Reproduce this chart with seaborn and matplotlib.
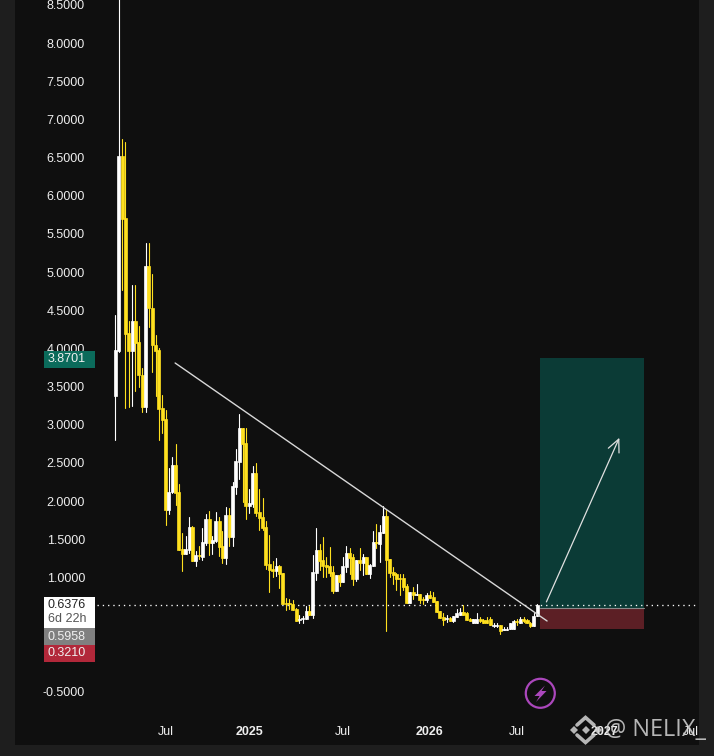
import matplotlib
matplotlib.use("Agg")
import matplotlib.pyplot as plt
import seaborn as sns
import pandas as pd
from matplotlib.patches import Circle, Polygon, Rectangle
from matplotlib.transforms import Affine2D

# weekly candles
opens = [3.38, 3.97, 6.52, 5.71, 4.20, 3.97, 4.36, 4.09, 3.65, 3.23, 5.08, 4.53, 4.05, 3.98, 3.22, 3.08,
         1.88, 2.12, 2.47, 2.12, 1.37, 1.31, 1.36, 1.66, 1.22, 1.29, 1.27, 1.45, 1.77, 1.45, 1.48, 1.74,
         1.41, 1.26, 1.82, 1.53, 2.19, 2.51, 2.96, 2.76, 1.94, 1.96, 2.37, 1.86, 1.79, 1.66, 1.18, 1.11,
         1.08, 1.15, 1.06, 0.67, 0.67, 0.65, 0.59, 0.44, 0.46, 0.46, 0.56, 0.51, 1.06, 1.36, 1.23, 1.16,
         1.15, 1.07, 0.82, 1.03, 0.94, 1.14, 1.32, 1.27, 0.98, 1.23, 1.19, 1.27, 1.05, 1.15, 1.47, 1.44,
         1.58, 1.80, 1.24, 1.07, 1.05, 0.99, 0.99, 0.89, 0.67, 0.81, 0.77, 0.78, 0.72, 0.71, 0.77, 0.74,
         0.69, 0.56, 0.48, 0.46, 0.47, 0.43, 0.48, 0.51, 0.55, 0.53, 0.46, 0.40, 0.40, 0.46, 0.44, 0.44,
         0.46, 0.37, 0.37, 0.38, 0.31, 0.31, 0.33, 0.33, 0.43, 0.40, 0.46, 0.44, 0.40, 0.37, 0.50]
highs = [4.44, 9.50, 6.74, 6.71, 4.36, 4.83, 4.83, 4.29, 3.74, 5.38, 5.38, 4.98, 4.18, 4.01, 3.39, 3.19,
         2.43, 2.58, 2.75, 2.23, 1.58, 1.54, 1.79, 1.67, 1.35, 1.41, 1.65, 1.83, 1.87, 1.54, 1.86, 1.79,
         1.61, 1.92, 1.91, 2.25, 2.68, 3.14, 2.96, 2.96, 2.16, 2.46, 2.50, 2.16, 2.04, 1.74, 1.56, 1.22,
         1.26, 1.16, 1.06, 0.73, 0.72, 0.71, 0.60, 0.51, 0.50, 0.63, 0.63, 1.29, 1.65, 1.44, 1.53, 1.27,
         1.40, 1.15, 1.03, 1.05, 1.27, 1.41, 1.39, 1.31, 1.23, 1.39, 1.31, 1.27, 1.18, 1.61, 1.70, 1.69,
         1.94, 1.88, 1.24, 1.14, 1.06, 1.05, 1.05, 0.92, 0.81, 0.88, 0.92, 0.78, 0.74, 0.80, 0.82, 0.81,
         0.69, 0.56, 0.53, 0.51, 0.48, 0.50, 0.59, 0.60, 0.64, 0.55, 0.47, 0.46, 0.53, 0.48, 0.46, 0.48,
         0.48, 0.40, 0.40, 0.38, 0.35, 0.35, 0.40, 0.44, 0.46, 0.48, 0.48, 0.46, 0.42, 0.53, 0.65]
lows = [2.80, 3.95, 4.77, 3.22, 3.23, 3.25, 3.44, 3.49, 3.17, 3.17, 4.28, 3.69, 3.38, 2.80, 2.89, 1.69,
        1.83, 2.11, 1.95, 1.36, 1.08, 1.31, 1.32, 1.22, 1.15, 1.24, 1.23, 1.43, 1.29, 1.31, 1.47, 1.28,
        1.19, 1.18, 1.41, 1.41, 2.09, 2.29, 1.99, 1.77, 1.85, 1.92, 1.80, 1.62, 1.62, 1.11, 0.81, 1.01,
        1.02, 0.86, 0.65, 0.57, 0.59, 0.57, 0.43, 0.40, 0.40, 0.46, 0.51, 0.47, 0.97, 1.10, 1.01, 1.01,
        1.02, 0.80, 0.82, 0.89, 0.94, 1.07, 1.05, 0.90, 0.95, 1.10, 1.03, 1.05, 0.99, 1.15, 1.39, 1.20,
        1.58, 0.30, 1.01, 0.92, 0.84, 0.77, 0.84, 0.67, 0.67, 0.72, 0.77, 0.67, 0.65, 0.68, 0.73, 0.68,
        0.55, 0.47, 0.38, 0.42, 0.43, 0.42, 0.48, 0.51, 0.51, 0.44, 0.43, 0.40, 0.40, 0.42, 0.40, 0.40,
        0.38, 0.35, 0.35, 0.26, 0.31, 0.31, 0.33, 0.33, 0.38, 0.40, 0.42, 0.40, 0.35, 0.37, 0.50]
closes = [3.98, 6.52, 5.70, 4.19, 3.97, 4.36, 4.07, 3.65, 3.23, 5.08, 4.53, 4.05, 3.97, 3.21, 3.06, 1.88,
          2.12, 2.47, 2.11, 1.36, 1.31, 1.37, 1.66, 1.22, 1.29, 1.28, 1.47, 1.77, 1.45, 1.49, 1.74, 1.40,
          1.26, 1.82, 1.53, 2.20, 2.53, 2.96, 2.75, 1.94, 1.98, 2.37, 1.85, 1.78, 1.65, 1.16, 1.10, 1.08,
          1.15, 1.05, 0.65, 0.65, 0.65, 0.57, 0.43, 0.46, 0.47, 0.56, 0.51, 1.07, 1.36, 1.22, 1.15, 1.14,
          1.06, 0.82, 1.03, 0.94, 1.15, 1.32, 1.26, 0.98, 1.23, 1.19, 1.27, 1.05, 1.16, 1.47, 1.45, 1.60,
          1.80, 1.23, 1.06, 1.03, 0.98, 0.98, 0.88, 0.67, 0.81, 0.77, 0.78, 0.71, 0.71, 0.77, 0.73, 0.68,
          0.55, 0.47, 0.44, 0.47, 0.43, 0.50, 0.53, 0.55, 0.51, 0.44, 0.43, 0.46, 0.46, 0.43, 0.40, 0.40,
          0.38, 0.38, 0.38, 0.30, 0.33, 0.33, 0.40, 0.43, 0.42, 0.46, 0.43, 0.40, 0.37, 0.50, 0.6376]

price_ticks = [-0.5, 0.0, 0.5, 1.0, 1.5, 2.0, 2.5, 3.0, 3.5, 4.0, 4.5, 5.0, 5.5, 6.0, 6.5, 7.0, 7.5, 8.0, 8.5]
time_ticks = [15, 40, 68, 94, 120, 146, 172]
time_labels = ["Jul", "2025", "Jul", "2026", "Jul", "2027", "Jul"]

# drawing tools
trend_weeks = [17.85, 129.0]
trend_prices = [3.81, 0.43]
arrow_start = (128.8, 0.68)
arrow_end = (150.6, 2.83)
box_weeks = (126.9, 158.0)
target_price = 3.8701
entry_price = 0.5958
stop_price = 0.3210
last_price = 0.6376

BG = "#0f0f0f"
FRAME = "#1e1e1e"
UP = "#ffffff"
DOWN = "#ffe01f"
TEXT = "#eeeeee"

sns.set_theme(style="dark", rc={"axes.facecolor": BG, "figure.facecolor": FRAME})
plt.rcParams["font.family"] = ["Liberation Sans", "DejaVu Sans"]

df = pd.DataFrame({"open": opens, "high": highs, "low": lows, "close": closes})
df["week"] = df.index
df["direction"] = ["up" if c >= o else "down" for o, c in zip(df["open"], df["close"])]
palette = {"up": UP, "down": DOWN}

fig = plt.figure(figsize=(7.14, 7.56), dpi=100)
ax = fig.add_axes([15 / 714, 11 / 756, 684 / 714, 745 / 756])

# wicks go through seaborn, one line per candle
wicks = df.melt(id_vars=["week", "direction"], value_vars=["low", "high"], value_name="price")
sns.lineplot(data=wicks, x="week", y="price", units="week", estimator=None, hue="direction",
             palette=palette, legend=False, linewidth=0.8, ax=ax, zorder=3)

body_bottom = df[["open", "close"]].min(axis=1)
body_height = (df["open"] - df["close"]).abs()
ax.bar(df["week"], body_height, bottom=body_bottom, width=0.9, linewidth=0.5,
       color=df["direction"].map(palette), edgecolor=df["direction"].map(palette), zorder=3)

ax.set_xlim(-30.0, 174.4)
ax.set_ylim(-1.1947, 8.5655)
ax.set_xlabel("")
ax.set_ylabel("")
ax.grid(False)
for side in ax.spines:
    ax.spines[side].set_visible(False)

ax.set_yticks(price_ticks, [f"{p:.4f}" for p in price_ticks])
ax.set_xticks(time_ticks, time_labels)
ax.tick_params(axis="y", length=0, pad=-50.4, labelsize=9, labelcolor=TEXT)
ax.tick_params(axis="x", length=0, pad=-14.0, labelsize=9, labelcolor=TEXT)
for lab in ax.get_xticklabels():
    if lab.get_text().startswith("20"):
        lab.set_fontweight("bold")

# long position box
ax.add_patch(Rectangle((box_weeks[0], entry_price), box_weeks[1] - box_weeks[0], target_price - entry_price,
                       facecolor="#0b3b36", edgecolor="none", zorder=1))
ax.add_patch(Rectangle((box_weeks[0], stop_price), box_weeks[1] - box_weeks[0], entry_price - stop_price,
                       facecolor="#5c1f25", edgecolor="none", zorder=1))
ax.plot(box_weeks, [entry_price, entry_price], color="#8a8a8a", linewidth=0.8, zorder=1.5)

# trend line and arrow
sns.lineplot(x=trend_weeks, y=trend_prices, color="#d8d8d8", linewidth=1.0, ax=ax, zorder=4)
ax.annotate("", xy=arrow_end, xytext=arrow_start, zorder=4,
            arrowprops=dict(arrowstyle="->,head_length=0.75,head_width=0.35", color="#e0e0e0",
                            linewidth=0.9, shrinkA=0, shrinkB=0))

# dotted last price line
ax.hlines(last_price, 97 / 684 - 15 / 684, 1, transform=ax.get_yaxis_transform(), color="#ffffff",
          linewidth=0.95, linestyle=(0, (1, 3)), zorder=2)

# everything below sits in screen pixels, origin top left
px = Affine2D().scale(1, -1).translate(0, 756)


def price_box(top, bottom, color):
    ax.add_patch(Rectangle((44, top), 51, bottom - top, transform=px, facecolor=color,
                           edgecolor="none", zorder=6, clip_on=False))


def box_text(y, s, color):
    ax.text(48, y, s, transform=px, color=color, fontsize=9, ha="left", va="center", zorder=7)


price_box(351, 367.5, "#0b6b5b")
box_text(359.5, "3.8701", "#f0f0f0")
price_box(597, 628, "#ffffff")
box_text(605.5, "0.6376", "#222222")
box_text(619.5, "6d 22h", "#555555")
price_box(628, 645, "#808080")
box_text(636.5, "0.5958", "#f0f0f0")
price_box(645, 662, "#b2283a")
box_text(653.5, "0.3210", "#f0f0f0")

# lightning badge
ax.add_patch(Circle((540.3, 693.3), 14.5, transform=px, facecolor="none", edgecolor="#ab47bc",
                    linewidth=1.6, zorder=6))
ax.add_patch(Polygon([(545, 685.5), (534.5, 696), (539.5, 696), (536, 702), (546.5, 691), (541.5, 691)],
                     transform=px, facecolor="#ab47bc", edgecolor="none", zorder=6))

# watermark
WM = "#d4d4d4"
ax.plot([577, 585.5, 594], [725, 717.5, 725], transform=px, color=WM, linewidth=2.6, alpha=0.85,
        solid_joinstyle="miter", zorder=8, clip_on=False)
ax.plot([577, 585.5, 594], [735, 742.5, 735], transform=px, color=WM, linewidth=2.6, alpha=0.85,
        solid_joinstyle="miter", zorder=8, clip_on=False)
ax.plot([573.5, 585.5, 597.5], [730, 730, 730], transform=px, linestyle="none", marker="D", markersize=3.6,
        color=WM, alpha=0.85, markeredgewidth=0, zorder=8, clip_on=False)
ax.text(605, 730.5, "@ NELIX_", transform=px, family="Open Sans", fontsize=17, color=WM,
        alpha=0.85, ha="left", va="center", zorder=8, clip_on=False)

fig.savefig("out.png", dpi=100, facecolor=FRAME)
